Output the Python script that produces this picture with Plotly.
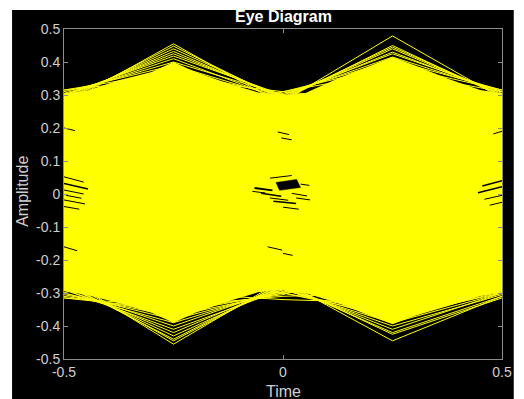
import plotly.graph_objects as go

# Sample instants of one eye period (two symbols wide)
t = [-0.5, -0.25, 0.0, 0.25, 0.5]

# Dense core of the overlaid traces: upper / lower boundary on a finer time grid
core_t = [-0.5, -0.45, -0.375, -0.3, -0.25, -0.2, -0.125, -0.05, 0.0,
          0.05, 0.125, 0.2, 0.25, 0.3, 0.375, 0.45, 0.5]
core_top = [0.305, 0.312, 0.345, 0.37, 0.40, 0.37, 0.335, 0.305, 0.30,
            0.305, 0.35, 0.39, 0.415, 0.39, 0.35, 0.315, 0.305]
core_bot = [-0.295, -0.305, -0.33, -0.36, -0.39, -0.36, -0.325, -0.295, -0.29,
            -0.30, -0.33, -0.37, -0.395, -0.37, -0.34, -0.31, -0.295]

# Individual traces around the outer edge of the eye (values at the sample instants)
edge_traces = [
    # overshoot at t = -0.25 (positive)
    [0.272, 0.455, 0.27, 0.22, 0.15],
    [0.280, 0.448, 0.285, 0.30, 0.20],
    [0.285, 0.440, 0.29, 0.10, -0.10],
    [0.290, 0.432, 0.29, 0.35, 0.30],
    [0.295, 0.425, 0.295, 0.20, 0.10],
    [0.300, 0.418, 0.30, 0.25, 0.30],
    [0.300, 0.410, 0.285, 0.32, 0.28],
    [0.305, 0.400, 0.30, 0.10, 0.00],
    [0.310, 0.390, 0.29, 0.30, 0.20],
    [0.315, 0.370, 0.30, 0.15, 0.05],
    [0.315, 0.350, 0.31, 0.28, 0.25],
    # overshoot at t = +0.25 (positive)
    [0.10, 0.20, 0.28, 0.479, 0.29],
    [0.20, 0.10, 0.285, 0.450, 0.295],
    [-0.10, 0.00, 0.29, 0.445, 0.30],
    [0.25, 0.30, 0.29, 0.440, 0.30],
    [0.00, 0.25, 0.295, 0.430, 0.305],
    [0.30, 0.20, 0.30, 0.425, 0.31],
    [0.10, 0.30, 0.30, 0.415, 0.31],
    [0.20, 0.25, 0.305, 0.405, 0.315],
    [0.15, 0.28, 0.31, 0.390, 0.315],
    [0.05, 0.22, 0.31, 0.370, 0.31],
    # overshoot at t = -0.25 (negative)
    [-0.25, -0.455, -0.26, -0.20, -0.10],
    [-0.26, -0.445, -0.27, -0.30, -0.20],
    [-0.27, -0.440, -0.27, -0.10, 0.10],
    [-0.275, -0.430, -0.28, -0.33, -0.30],
    [-0.28, -0.420, -0.28, -0.20, -0.05],
    [-0.29, -0.410, -0.29, -0.25, -0.30],
    [-0.29, -0.400, -0.285, -0.32, -0.28],
    [-0.30, -0.390, -0.29, -0.10, 0.00],
    [-0.30, -0.380, -0.295, -0.30, -0.20],
    [-0.305, -0.370, -0.30, -0.15, -0.05],
    [-0.31, -0.360, -0.30, -0.28, -0.25],
    [-0.315, -0.350, -0.305, -0.20, -0.10],
    [-0.315, -0.340, -0.31, -0.30, -0.29],
    # overshoot at t = +0.25 (negative)
    [-0.10, -0.20, -0.265, -0.445, -0.31],
    [-0.20, -0.10, -0.27, -0.425, -0.315],
    [0.10, 0.00, -0.275, -0.420, -0.31],
    [-0.25, -0.30, -0.28, -0.410, -0.30],
    [0.00, -0.25, -0.285, -0.400, -0.305],
    [-0.30, -0.20, -0.29, -0.390, -0.30],
    [-0.10, -0.30, -0.29, -0.380, -0.295],
    [-0.20, -0.25, -0.30, -0.370, -0.30],
    [-0.15, -0.28, -0.30, -0.360, -0.29],
    [-0.20, -0.30, -0.32, -0.33, -0.25],
]

# Open regions of the eye where no trace passes: polygons (t list, y list)
eye_holes = [
    ([-0.016, 0.031, 0.040, -0.008], [0.035, 0.044, 0.020, 0.011]),
]

# Thin gaps between neighbouring traces: (t0, y0, t1, y1, width)
eye_gaps = [
    # centre eye
    (-0.065, 0.018, -0.024, 0.011, 2),
    (-0.070, 0.008, -0.040, 0.003, 1),
    (-0.050, 0.002, -0.004, -0.007, 1.5),
    (-0.030, -0.012, 0.012, -0.019, 1),
    (-0.022, -0.022, 0.030, -0.029, 1.5),
    (0.000, -0.040, 0.036, -0.046, 1),
    (0.020, 0.002, 0.055, -0.006, 1),
    (0.030, -0.012, 0.062, -0.018, 1),
    (-0.030, 0.048, 0.020, 0.056, 1),
    (0.040, 0.030, 0.060, 0.026, 1),
    # centre, upper and lower rails
    (-0.012, 0.188, 0.014, 0.180, 1),
    (-0.004, 0.170, 0.020, 0.164, 1),
    (-0.035, -0.160, -0.002, -0.170, 1),
    (0.000, -0.180, 0.022, -0.186, 1),
    # left edge
    (-0.500, 0.052, -0.455, 0.036, 1),
    (-0.500, 0.032, -0.445, 0.015, 1.5),
    (-0.500, 0.012, -0.455, 0.000, 1),
    (-0.495, -0.004, -0.460, -0.013, 1),
    (-0.500, -0.018, -0.452, -0.030, 1),
    (-0.500, -0.038, -0.465, -0.046, 1),
    (-0.500, -0.160, -0.470, -0.172, 1),
    (-0.500, 0.200, -0.475, 0.192, 1),
    # right edge
    (0.455, 0.024, 0.500, 0.040, 1.5),
    (0.445, 0.004, 0.500, 0.022, 1.5),
    (0.460, -0.016, 0.500, -0.004, 1),
    (0.472, -0.034, 0.500, -0.025, 1),
    (0.480, 0.182, 0.500, 0.190, 1),
]

YELLOW = "#ffff00"
fig = go.Figure()

# dense body of the eye
fig.add_trace(go.Scatter(
    x=core_t + core_t[::-1], y=core_top + core_bot[::-1],
    fill="toself", fillcolor=YELLOW, mode="lines",
    line=dict(width=0, color=YELLOW), hoverinfo="skip", showlegend=False))

# outer traces
for tr in edge_traces:
    fig.add_trace(go.Scatter(x=t, y=tr, mode="lines",
                             line=dict(color=YELLOW, width=1),
                             hoverinfo="skip", showlegend=False))

# eye openings
for hx, hy in eye_holes:
    fig.add_trace(go.Scatter(x=hx + hx[:1], y=hy + hy[:1], fill="toself",
                             fillcolor="black", mode="lines",
                             line=dict(width=0.5, color="black"),
                             hoverinfo="skip", showlegend=False))
for x0, y0, x1, y1, w in eye_gaps:
    fig.add_trace(go.Scatter(x=[x0, x1], y=[y0, y1], mode="lines",
                             line=dict(color="black", width=w),
                             hoverinfo="skip", showlegend=False))

W, H = 524, 399
ml, mr, mt, mb = 64, 13, 29, 40
pw, ph = W - ml - mr, H - mt - mb


def px_to_paper_x(px):
    return (px - ml) / pw


def px_to_paper_y(py):
    return (H - mb - py) / ph


FONT = "Liberation Sans, Arial, sans-serif"
AX_COL = "#8c8c8c"
LABEL_COL = "#cfcfcf"
TICK_FONT = dict(family=FONT, size=14, color=LABEL_COL)

yt = [-0.5, -0.4, -0.3, -0.2, -0.1, 0.0, 0.1, 0.2, 0.3, 0.4, 0.5]
yt_text = ["-0.5", "-0.4", "-0.3", "-0.2", "-0.1", "0", "0.1", "0.2", "0.3", "0.4", "0.5"]
xt = [-0.5, 0.0, 0.5]
xt_text = ["-0.5", "0", "0.5"]

fig.update_layout(
    width=W, height=H,
    margin=dict(l=ml, r=mr, t=mt, b=mb, pad=0),
    paper_bgcolor="white", plot_bgcolor="black",
    showlegend=False,
    shapes=[dict(type="rect", xref="paper", yref="paper", layer="below",
                 x0=px_to_paper_x(11), x1=px_to_paper_x(523),
                 y0=px_to_paper_y(400), y1=px_to_paper_y(10),
                 fillcolor="black", line=dict(width=0))],
    annotations=[
        dict(text="<b>Eye Diagram</b>", xref="paper", yref="paper",
             x=px_to_paper_x(288), y=px_to_paper_y(17), showarrow=False,
             xanchor="center", yanchor="middle",
             font=dict(family=FONT, size=16, color="white")),
        dict(text="Time", xref="paper", yref="paper",
             x=px_to_paper_x(288), y=px_to_paper_y(391), showarrow=False,
             xanchor="center", yanchor="middle",
             font=dict(family=FONT, size=16, color=LABEL_COL)),
        dict(text="Amplitude", xref="paper", yref="paper", textangle=-90,
             x=px_to_paper_x(21), y=px_to_paper_y(191), showarrow=False,
             xanchor="center", yanchor="middle",
             font=dict(family=FONT, size=16, color=LABEL_COL)),
    ],
    xaxis=dict(range=[-0.5, 0.5], tickvals=xt, ticktext=xt_text,
               showgrid=False, zeroline=False, showline=True, linecolor=AX_COL,
               linewidth=1, mirror="ticks", ticks="inside", ticklen=4,
               tickcolor=AX_COL, tickfont=TICK_FONT),
    yaxis=dict(range=[-0.5, 0.5], tickvals=yt, ticktext=yt_text,
               showgrid=False, zeroline=False, showline=True, linecolor=AX_COL,
               linewidth=1, mirror="ticks", ticks="inside", ticklen=4,
               tickcolor=AX_COL, tickfont=TICK_FONT),
)

fig.write_html("out.html")
